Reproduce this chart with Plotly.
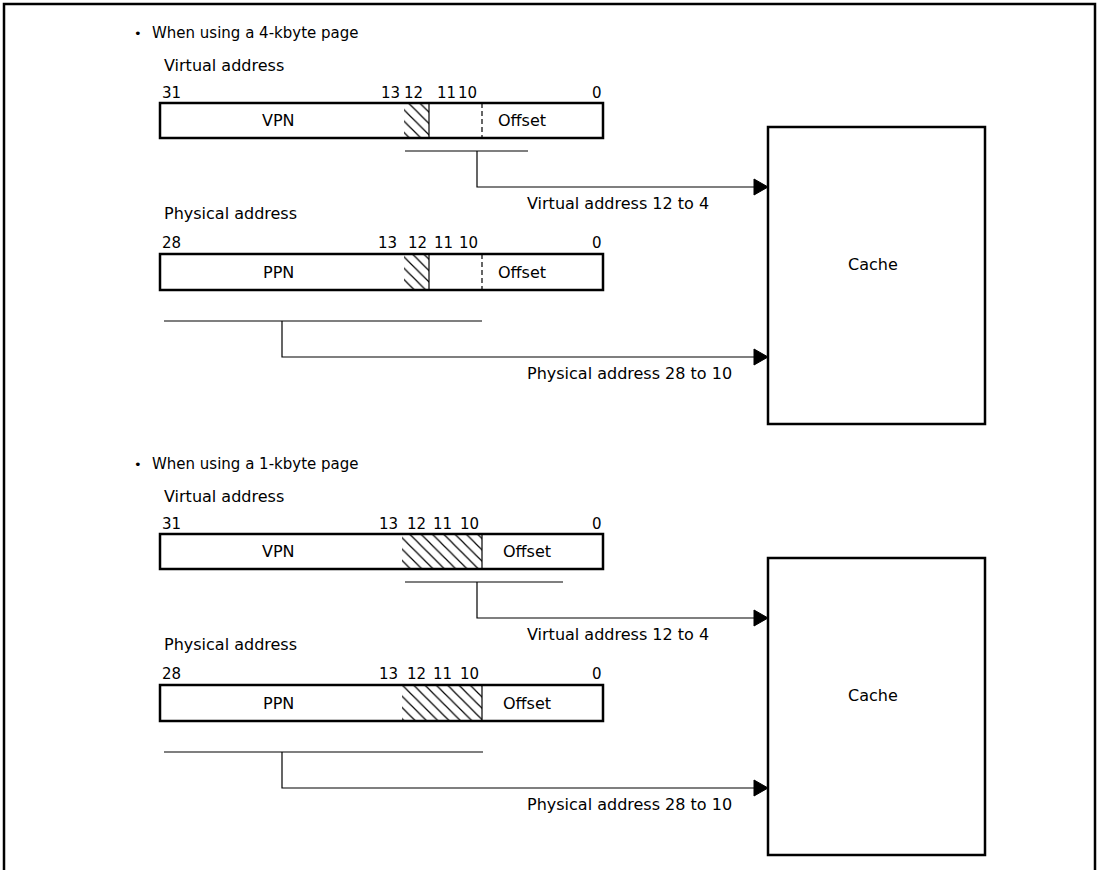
import plotly.graph_objects as go

W, H = 1101, 870
FONT = "DejaVu Sans"

# text content
PAGE_TITLES = ["When using a 4-kbyte page", "When using a 1-kbyte page"]
REG_NAMES = ["Virtual address", "Physical address"]
FIELD_NAMES = ["VPN", "PPN"]
TOP_BITS = ["31", "28"]
MID_BITS = ["13", "12", "11", "10"]
ROUTE_LABELS = ["Virtual address 12 to 4", "Physical address 28 to 10"]

# geometry (pixels) - section 2 is section 1 shifted down
SECTION_Y = [0, 431]
BOX_X = [160, 603]
VA_BOX_Y = [103, 138]
PA_BOX_Y = [254, 290]
HATCH_X = [(404, 429), (402, 482)]
DASH_X = [482, None]
OFFSET_X = [522, 527]
BIT_X = {  # (section, register) -> centres of 13,12,11,10
    (0, 0): [390, 413, 446, 467], (0, 1): [387, 417, 443, 468],
    (1, 0): [388, 416, 442, 469], (1, 1): [388, 416, 442, 469],
}
VA_BRACKET = [(405, 528), (405, 563)]
PA_BRACKET = [(164, 482), (164, 483)]
CACHE_X = [768, 985]
CACHE_Y = [127, 424]

fig = go.Figure()
shapes = []
ann = []


def text(x, y, s, anchor="left", size=16):
    ann.append(dict(x=x, y=y, text=s, showarrow=False, xanchor=anchor, yanchor="middle",
                    font=dict(family=FONT, size=size, color="black")))


def line(x0, y0, x1, y1, width=1.2, dash=None):
    shapes.append(dict(type="line", x0=x0, y0=y0, x1=x1, y1=y1,
                       line=dict(color="black", width=width, dash=dash)))


# outer frame (open at the bottom)
shapes.append(dict(type="path", path=f"M 4 {H + 10} L 4 4 L 1095 4 L 1095 {H + 10}",
                   line=dict(color="black", width=2.5)))

for s, dy in enumerate(SECTION_Y):
    text(132, 33 + dy, "•", size=13)
    text(150, 33 + dy, PAGE_TITLES[s], size=15)

    for r, (box_y, name_y, bits_y) in enumerate([(VA_BOX_Y, 65, 93), (PA_BOX_Y, 213, 243)]):
        y0, y1 = box_y[0] + dy, box_y[1] + dy
        text(162, name_y + dy, REG_NAMES[r])
        text(BOX_X[0], bits_y + dy, TOP_BITS[r], size=15)
        for b, bx in zip(MID_BITS, BIT_X[(s, r)]):
            text(bx, bits_y + dy, b, anchor="center", size=15)
        text(BOX_X[1] + 1, bits_y + dy, "0", anchor="right", size=15)

        hx0, hx1 = HATCH_X[s]
        fig.add_trace(go.Scatter(
            x=[hx0, hx1, hx1, hx0, hx0], y=[y0, y0, y1, y1, y0],
            mode="lines", fill="toself", line=dict(width=0, color="black"),
            hoverinfo="skip",
            fillpattern=dict(shape="\\", size=8, solidity=0.15, fgopacity=1,
                             fgcolor="black", bgcolor="white"),
            fillcolor="white", showlegend=False))
        line(hx1, y0, hx1, y1, width=1.2)
        if DASH_X[s]:
            line(DASH_X[s], y0, DASH_X[s], y1, width=1.2, dash="5px,3px")
        shapes.append(dict(type="rect", x0=BOX_X[0], x1=BOX_X[1], y0=y0, y1=y1,
                           line=dict(color="black", width=2.5)))
        text(278, (y0 + y1) / 2, FIELD_NAMES[r], anchor="center")
        text(OFFSET_X[s], (y0 + y1) / 2, "Offset", anchor="center")

    # routing lines to cache
    for (bx0, bx1), by, vx, ay, ly, lab in [
        (VA_BRACKET[s], 151, 477, 187, 203, ROUTE_LABELS[0]),
        (PA_BRACKET[s], 321, 282, 357, 373, ROUTE_LABELS[1]),
    ]:
        line(bx0, by + dy, bx1, by + dy)
        shapes.append(dict(type="path",
                           path=f"M {vx} {by + dy} L {vx} {ay + dy} L {CACHE_X[0] - 12} {ay + dy}",
                           line=dict(color="black", width=1.2)))
        shapes.append(dict(type="path",
                           path=f"M {CACHE_X[0] - 14} {ay + dy - 8} L {CACHE_X[0]} {ay + dy} "
                                f"L {CACHE_X[0] - 14} {ay + dy + 8} Z",
                           fillcolor="black", line=dict(color="black", width=1)))
        text(525, ly + dy, lab)

    shapes.append(dict(type="rect", x0=CACHE_X[0], x1=CACHE_X[1],
                       y0=CACHE_Y[0] + dy, y1=CACHE_Y[1] + dy,
                       line=dict(color="black", width=2.5)))
    text((CACHE_X[0] + CACHE_X[1]) / 2 - 4, 264 + dy, "Cache", anchor="center")

fig.update_layout(
    width=W, height=H, margin=dict(l=0, r=0, t=0, b=0),
    paper_bgcolor="white", plot_bgcolor="white",
    xaxis=dict(range=[0, W], visible=False, fixedrange=True),
    yaxis=dict(range=[H, 0], visible=False, fixedrange=True),
    shapes=shapes, annotations=ann, showlegend=False,
)
# drop the page's default body margin so the figure sits at the window origin
fig.write_html("out.html", config={"displayModeBar": False},
               post_script="document.body.style.margin='0';"
                           "document.body.style.overflow='hidden';")
